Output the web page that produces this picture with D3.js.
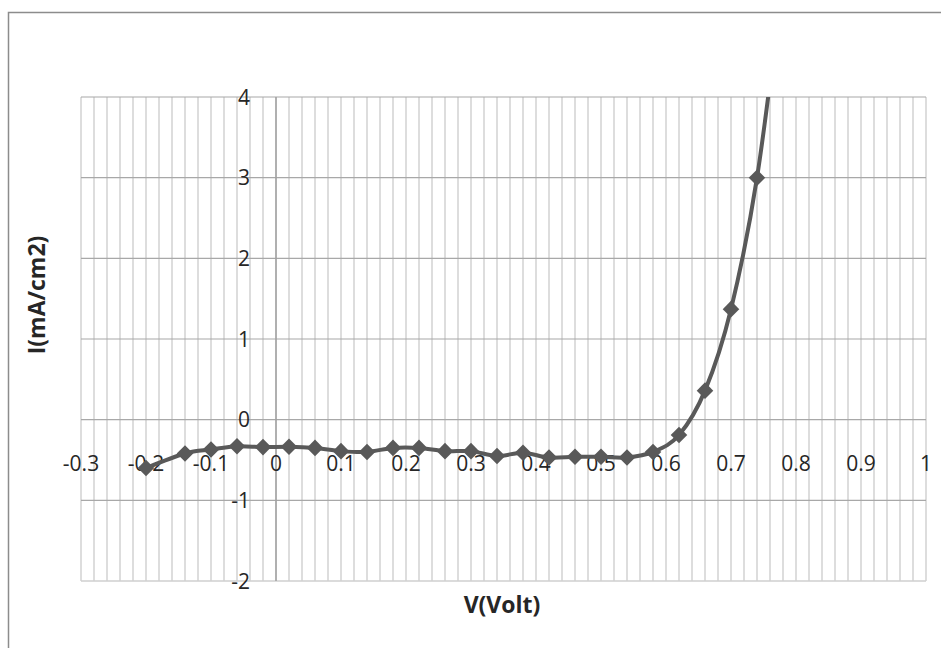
<!DOCTYPE html>
<html>
<head>
<meta charset="utf-8">
<script src="https://cdn.jsdelivr.net/npm/d3@7"></script>
<style>
  html, body { margin: 0; padding: 0; background: #ffffff; }
  svg { display: block; }
  text { font-family: "Open Sans", "Liberation Sans", sans-serif; fill: #262626; }
</style>
</head>
<body>
<svg id="chart" width="941" height="648"></svg>
<script>
// I–V curve data: voltage (V) and current density (mA/cm2)
const voltage = [-0.2, -0.14, -0.1, -0.06, -0.02, 0.02, 0.06, 0.1, 0.14, 0.18, 0.22, 0.26,
                 0.3, 0.34, 0.38, 0.42, 0.46, 0.5, 0.54, 0.58, 0.62, 0.66, 0.7, 0.74, 0.78];
const current = [-0.6, -0.42, -0.37, -0.33, -0.34, -0.335, -0.35, -0.39, -0.40, -0.35, -0.35, -0.39,
                 -0.39, -0.45, -0.41, -0.47, -0.46, -0.46, -0.47, -0.40, -0.19, 0.36, 1.37, 3.0, 5.5];
const xTicks = [-0.3, -0.2, -0.1, 0, 0.1, 0.2, 0.3, 0.4, 0.5, 0.6, 0.7, 0.8, 0.9, 1];
const yTicks = [-2, -1, 0, 1, 2, 3, 4];
const xTitle = "V(Volt)";
const yTitle = "I(mA/cm2)";

const points = voltage.map((v, i) => ({ v, i: current[i] }));

const svg = d3.select("#chart");
const plot = { left: 81, right: 926, top: 97, bottom: 581 };

const x = d3.scaleLinear().domain([-0.3, 1]).range([plot.left, plot.right]);
const y = d3.scaleLinear().domain([-2, 4]).range([plot.bottom, plot.top]);

// plain hyphen-minus tick text
const tickText = d => String(d);

// outer chart frame
svg.append("rect")
  .attr("x", 8.5).attr("y", 12.5)
  .attr("width", 1000).attr("height", 1000)
  .attr("fill", "#ffffff")
  .attr("stroke", "#8c8c8c").attr("stroke-width", 1.5);

// minor vertical gridlines every 0.02 V
const minorX = d3.range(0, 66).map(k => -0.3 + k * 0.02);
svg.append("g")
  .selectAll("line")
  .data(minorX)
  .join("line")
  .attr("x1", d => x(d)).attr("x2", d => x(d))
  .attr("y1", plot.top).attr("y2", plot.bottom)
  .attr("stroke", "#d2d2d2").attr("stroke-width", 1.5);

// bottom edge of plot area
svg.append("line")
  .attr("x1", plot.left).attr("x2", plot.right)
  .attr("y1", plot.bottom).attr("y2", plot.bottom)
  .attr("stroke", "#cfcfcf").attr("stroke-width", 1.5);

// major horizontal gridlines
svg.append("g")
  .selectAll("line")
  .data(yTicks.filter(d => d !== -2))
  .join("line")
  .attr("x1", plot.left).attr("x2", plot.right)
  .attr("y1", d => y(d)).attr("y2", d => y(d))
  .attr("stroke", "#a8a8a8").attr("stroke-width", 1.2);

// vertical axis line at V = 0
svg.append("line")
  .attr("x1", x(0)).attr("x2", x(0))
  .attr("y1", plot.top).attr("y2", plot.bottom)
  .attr("stroke", "#a0a0a0").attr("stroke-width", 1.5);

// y tick labels in the column left of the V = 0 axis
svg.append("g")
  .selectAll("text")
  .data(yTicks)
  .join("text")
  .attr("x", 250)
  .attr("y", d => y(d))
  .attr("dy", "0.36em")
  .attr("text-anchor", "end")
  .attr("font-size", 21)
  .text(tickText);

// x tick labels below the I = 0 axis
svg.append("g")
  .selectAll("text")
  .data(xTicks)
  .join("text")
  .attr("x", d => x(d))
  .attr("y", y(0) + 51)
  .attr("text-anchor", "middle")
  .attr("font-size", 21)
  .text(tickText);

// axis titles
svg.append("text")
  .attr("x", 502).attr("y", 613)
  .attr("text-anchor", "middle")
  .attr("font-size", 23).attr("font-weight", "bold")
  .text(xTitle);

svg.append("text")
  .attr("transform", "translate(45,295) rotate(-90)")
  .attr("text-anchor", "middle")
  .attr("font-size", 23).attr("font-weight", "bold")
  .text(yTitle);

// clip the series to the plot area
svg.append("defs").append("clipPath").attr("id", "plotClip")
  .append("rect")
  .attr("x", plot.left).attr("y", plot.top)
  .attr("width", plot.right - plot.left).attr("height", plot.bottom - plot.top);

const series = svg.append("g").attr("clip-path", "url(#plotClip)");

const line = d3.line()
  .x(d => x(d.v))
  .y(d => y(d.i))
  .curve(d3.curveCardinal.tension(0));

series.append("path")
  .datum(points)
  .attr("d", line)
  .attr("fill", "none")
  .attr("stroke", "#595959")
  .attr("stroke-width", 4)
  .attr("stroke-linejoin", "round");

// diamond markers
const diamond = d3.symbol().type(d3.symbolDiamond2).size(175);
series.selectAll("path.marker")
  .data(points)
  .join("path")
  .attr("class", "marker")
  .attr("transform", d => `translate(${x(d.v)},${y(d.i)})`)
  .attr("d", diamond)
  .attr("fill", "#595959");
</script>
</body>
</html>
